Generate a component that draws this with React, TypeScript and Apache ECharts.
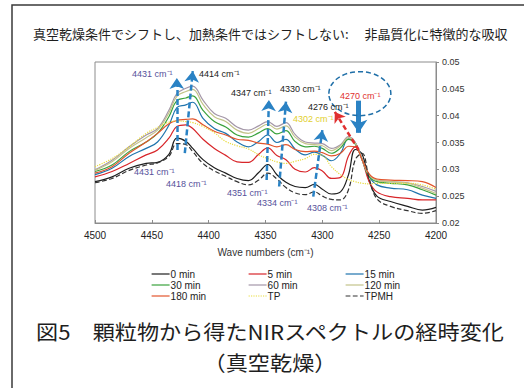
import React, { useEffect, useRef } from "react";
import * as echarts from "echarts";

// Wavenumbers (cm-1) at which the spectra were read
const wavenumbers = [4500, 4485, 4470, 4455, 4445, 4435, 4428, 4420, 4414, 4405, 4395, 4385, 4375, 4365, 4356, 4348, 4340, 4332, 4324, 4315, 4307, 4300, 4292, 4284, 4277, 4271, 4265, 4259, 4252, 4240, 4225, 4212, 4200];

const min0 = [0.0277, 0.0286, 0.0302, 0.0311, 0.0313, 0.0328, 0.0358, 0.0352, 0.0339, 0.0318, 0.0303, 0.0293, 0.0283, 0.0279, 0.0294, 0.0309, 0.0290, 0.0276, 0.0268, 0.0266, 0.0272, 0.0263, 0.0254, 0.0258, 0.0290, 0.0337, 0.0328, 0.0280, 0.0250, 0.0240, 0.0231, 0.0224, 0.0229];
const min5 = [0.0286, 0.0296, 0.0311, 0.0327, 0.0336, 0.0358, 0.0380, 0.0383, 0.0376, 0.0356, 0.0339, 0.0326, 0.0314, 0.0313, 0.0328, 0.0340, 0.0326, 0.0318, 0.0300, 0.0295, 0.0303, 0.0297, 0.0283, 0.0285, 0.0325, 0.0342, 0.0318, 0.0278, 0.0258, 0.0249, 0.0246, 0.0243, 0.0243];
const min15 = [0.0290, 0.0302, 0.0324, 0.0339, 0.0351, 0.0382, 0.0415, 0.0420, 0.0425, 0.0395, 0.0376, 0.0367, 0.0351, 0.0342, 0.0352, 0.0364, 0.0350, 0.0356, 0.0338, 0.0327, 0.0332, 0.0326, 0.0316, 0.0330, 0.0357, 0.0350, 0.0318, 0.0287, 0.0271, 0.0265, 0.0262, 0.0252, 0.0246];
const min30 = [0.0296, 0.0308, 0.0333, 0.0351, 0.0367, 0.0398, 0.0428, 0.0433, 0.0437, 0.0410, 0.0389, 0.0379, 0.0364, 0.0360, 0.0368, 0.0376, 0.0366, 0.0372, 0.0352, 0.0342, 0.0343, 0.0339, 0.0330, 0.0340, 0.0356, 0.0347, 0.0318, 0.0287, 0.0277, 0.0274, 0.0271, 0.0262, 0.0252];
const min60 = [0.0299, 0.0317, 0.0342, 0.0364, 0.0376, 0.0410, 0.0441, 0.0451, 0.0455, 0.0429, 0.0404, 0.0395, 0.0379, 0.0373, 0.0381, 0.0389, 0.0380, 0.0387, 0.0365, 0.0351, 0.0349, 0.0348, 0.0339, 0.0346, 0.0361, 0.0350, 0.0318, 0.0290, 0.0280, 0.0277, 0.0275, 0.0268, 0.0259];
const min120 = [0.0298, 0.0314, 0.0339, 0.0359, 0.0373, 0.0405, 0.0436, 0.0445, 0.0449, 0.0421, 0.0398, 0.0389, 0.0373, 0.0367, 0.0376, 0.0384, 0.0375, 0.0381, 0.0360, 0.0348, 0.0346, 0.0344, 0.0335, 0.0344, 0.0359, 0.0349, 0.0318, 0.0290, 0.0280, 0.0277, 0.0274, 0.0265, 0.0255];
const min180 = [0.0293, 0.0305, 0.0330, 0.0351, 0.0367, 0.0385, 0.0391, 0.0393, 0.0394, 0.0383, 0.0371, 0.0364, 0.0356, 0.0354, 0.0349, 0.0347, 0.0342, 0.0346, 0.0337, 0.0333, 0.0334, 0.0331, 0.0325, 0.0330, 0.0343, 0.0342, 0.0318, 0.0292, 0.0282, 0.0280, 0.0279, 0.0277, 0.0266];
const tp = [0.0305, 0.0320, 0.0342, 0.0367, 0.0378, 0.0388, 0.0390, 0.0389, 0.0387, 0.0380, 0.0368, 0.0352, 0.0344, 0.0338, 0.0327, 0.0320, 0.0314, 0.0311, 0.0315, 0.0320, 0.0328, 0.0326, 0.0305, 0.0290, 0.0281, 0.0277, 0.0274, 0.0273, 0.0274, 0.0274, 0.0274, 0.0271, 0.0263];
const tpmh = [0.0275, 0.0283, 0.0298, 0.0308, 0.0312, 0.0324, 0.0348, 0.0346, 0.0333, 0.0311, 0.0297, 0.0287, 0.0277, 0.0271, 0.0280, 0.0293, 0.0282, 0.0266, 0.0256, 0.0253, 0.0258, 0.0250, 0.0244, 0.0243, 0.0262, 0.0318, 0.0330, 0.0285, 0.0245, 0.0231, 0.0223, 0.0218, 0.0223];

const seriesNames = ["0 min", "5 min", "15 min", "30 min", "60 min", "120 min", "180 min", "TP", "TPMH"];
const seriesValues = [min0, min5, min15, min30, min60, min120, min180, tp, tpmh];
const seriesColors = ["#1e1e1e", "#d8262a", "#1f74ad", "#3aa23c", "#a497a8", "#c4c48a", "#e2542c", "#e9dc3e", "#333333"];
const seriesDash = ["solid", "solid", "solid", "solid", "solid", "solid", "solid", "dotted", "dashed"];

const xTicksMin = 4200;
const xTicksMax = 4500;
const yTicksMin = 0.02;
const yTicksMax = 0.05;

// Peak-shift arrows: [from wavenumber, from abs, to wavenumber, to abs]
const shiftArrows = [
  [4428, 0.0336, 4428, 0.0470],
  [4421, 0.0330, 4414, 0.0483],
  [4349, 0.0280, 4347, 0.0429],
  [4338, 0.0268, 4332, 0.0426],
  [4308, 0.0249, 4300, 0.0373],
];
const redArrow = [4268, 0.0336, 4289, 0.0407];
const downArrow = [4268, 0.0428, 4268, 0.0368];
const ellipseCenter = [4267, 0.0441];

// Annotation labels: text, wavenumber (left edge), absorbance (middle), colour
const labelTexts = ["4431 cm⁻¹", "4414 cm⁻¹", "4347 cm⁻¹", "4330 cm⁻¹", "4276 cm⁻¹", "4302 cm⁻¹", "4270 cm⁻¹", "4431 cm⁻¹", "4418 cm⁻¹", "4351 cm⁻¹", "4334 cm⁻¹", "4308 cm⁻¹"];
const labelWn = [4467.4, 4408.5, 4380.4, 4337.2, 4312.6, 4325.8, 4284.5, 4465.7, 4437.5, 4383.9, 4357.5, 4313.5];
const labelAbs = [0.0478, 0.0478, 0.0442, 0.0450, 0.0416, 0.0394, 0.0437, 0.0295, 0.0273, 0.0256, 0.0237, 0.0228];
const labelColors = ["#55509a", "#222222", "#222222", "#222222", "#222222", "#e2cf2e", "#e03030", "#55509a", "#55509a", "#55509a", "#55509a", "#55509a"];

const legendColumns = [
  ["0 min", "30 min", "180 min"],
  ["5 min", "60 min", "TP"],
  ["15 min", "120 min", "TPMH"],
];

const CJK = "'Noto Sans CJK JP', 'Noto Sans', sans-serif";
const LAT = "'Liberation Sans', Arial, sans-serif";
const ARROW_BLUE = "#2a82c4";

export default function App() {
  const ref = useRef<HTMLDivElement>(null);

  useEffect(() => {
    if (!ref.current) return;
    const chart = echarts.init(ref.current, null, { renderer: "svg" });

    const markData: any[] = shiftArrows.map((a) => [
      { coord: [a[0], a[1]], symbol: "none", lineStyle: { color: ARROW_BLUE, width: 2.5, type: [6, 3] } },
      { coord: [a[2], a[3]], symbol: "arrow", symbolSize: 11 },
    ]);
    markData.push([
      { coord: [redArrow[0], redArrow[1]], symbol: "none", lineStyle: { color: "#e03030", width: 2.5, type: [5, 3] } },
      { coord: [redArrow[2], redArrow[3]], symbol: "arrow", symbolSize: 10 },
    ]);
    markData.push([
      { coord: [downArrow[0], downArrow[1]], symbol: "none", lineStyle: { color: ARROW_BLUE, width: 5, type: "solid" } },
      { coord: [downArrow[2], downArrow[3]], symbol: "arrow", symbolSize: 13 },
    ]);

    const series: any[] = seriesNames.map((name, i) => ({
      name,
      type: "line",
      data: wavenumbers.map((w, j) => [w, seriesValues[i][j]]),
      smooth: 0.4,
      symbol: "circle",
      showSymbol: false,
      lineStyle: { color: seriesColors[i], width: 1.2, type: seriesDash[i] },
      itemStyle: { color: seriesColors[i] },
      z: 2,
    }));
    series.push({
      name: "annotations",
      type: "line",
      data: [],
      symbol: "none",
      markLine: {
        silent: true,
        animation: false,
        label: { show: false },
        emphasis: { disabled: true },
        data: markData,
      },
      z: 5,
    });

    chart.setOption({
      animation: false,
      backgroundColor: "#ffffff",
      textStyle: { fontFamily: LAT },
      grid: { left: 95, right: 88, top: 62, bottom: 165, show: true, borderColor: "#8c8c8c", borderWidth: 1 },
      xAxis: {
        type: "value",
        min: xTicksMin,
        max: xTicksMax,
        interval: 50,
        inverse: true,
        name: "Wave numbers (cm⁻¹)",
        nameLocation: "middle",
        nameGap: 24,
        nameTextStyle: { fontSize: 10, color: "#333", fontFamily: LAT },
        axisLine: { lineStyle: { color: "#8c8c8c" } },
        axisTick: { inside: true, length: 3, lineStyle: { color: "#8c8c8c" } },
        axisLabel: { fontSize: 10, color: "#222", margin: 7, formatter: (v: number) => String(v) },
        splitLine: { show: false },
      },
      yAxis: {
        type: "value",
        position: "right",
        min: yTicksMin,
        max: yTicksMax,
        interval: 0.005,
        axisLine: { show: true, lineStyle: { color: "#8c8c8c" } },
        axisTick: { show: true, length: 3, lineStyle: { color: "#8c8c8c" } },
        axisLabel: { fontSize: 9, color: "#333", margin: 6, formatter: (v: number) => String(Number(v.toFixed(3))) },
        splitLine: { show: false },
      },
      legend: legendColumns.map((col, k) => ({
        data: col,
        orient: "vertical",
        left: [151, 248, 345][k],
        top: 269,
        itemWidth: 18,
        itemHeight: 8,
        itemGap: 1,
        padding: 0,
        itemStyle: { opacity: 0 },
        lineStyle: { width: 1.2 },
        textStyle: { fontSize: 10, color: "#222", fontFamily: LAT, lineHeight: 9, padding: [0, 0, 0, -4] },
        selectedMode: false,
      })),
      series,
    });

    const px = (p: number[]) => chart.convertToPixel({ gridIndex: 0 }, p) as number[];
    const ec = px(ellipseCenter);
    const graphics: any[] = [
      {
        type: "rect",
        shape: { x: 12, y: 5, width: 700, height: 600 },
        style: { fill: "none", stroke: "#3a3a3a", lineWidth: 1.5 },
        silent: true,
      },
      {
        type: "text",
        x: 33,
        y: 33,
        style: {
          text: "真空乾燥条件でシフトし、加熱条件ではシフトしない:　 非晶質化に特徴的な吸収",
          font: `13px ${CJK}`,
          fill: "#1e1e1e",
          textVerticalAlign: "middle",
        },
      },
      {
        type: "text",
        x: 270,
        y: 331,
        scaleX: 1.08,
        style: {
          text: "図5　顆粒物から得たNIRスペクトルの経時変化",
          font: `20.5px ${CJK}`,
          fill: "#1e1e1e",
          textAlign: "center",
          textVerticalAlign: "middle",
        },
      },
      {
        type: "text",
        x: 270,
        y: 362,
        scaleX: 1.08,
        style: {
          text: "（真空乾燥）",
          font: `20.5px ${CJK}`,
          fill: "#1e1e1e",
          textAlign: "center",
          textVerticalAlign: "middle",
        },
      },
      {
        type: "ellipse",
        shape: { cx: ec[0], cy: ec[1], rx: 31, ry: 22 },
        style: { fill: "none", stroke: "#1f6fa8", lineWidth: 1.5, lineDash: [5, 3] },
        z: 10,
      },
    ];
    labelTexts.forEach((t, i) => {
      const p = px([labelWn[i], labelAbs[i]]);
      graphics.push({
        type: "text",
        x: p[0],
        y: p[1],
        style: { text: t, font: `9px ${LAT}`, fill: labelColors[i], textVerticalAlign: "middle" },
        z: 10,
      });
    });
    chart.setOption({ graphic: graphics });

    return () => chart.dispose();
  }, []);

  return (
    <div
      ref={ref}
      style={{ position: "fixed", left: 0, top: 0, width: 524, height: 388, background: "#fff" }}
    />
  );
}
